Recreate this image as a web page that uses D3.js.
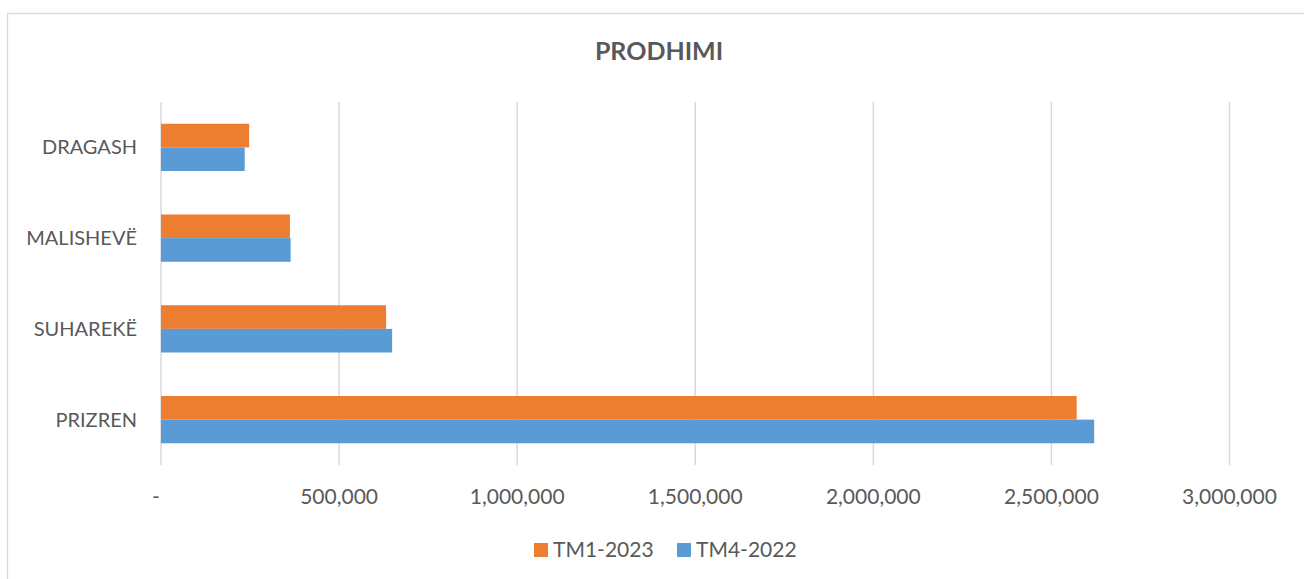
<!DOCTYPE html>
<html>
<head>
<meta charset="utf-8">
<script src="https://cdn.jsdelivr.net/npm/d3@7"></script>
<style>
  body { margin: 0; background: #fff; }
  svg { display: block; }
</style>
</head>
<body>
<svg id="chart" width="1304" height="579"></svg>
<script>
// data
var categories = ["DRAGASH", "MALISHEVË", "SUHAREKË", "PRIZREN"];
var seriesNames = ["TM1-2023", "TM4-2022"];
var tm1_2023 = [247500, 362000, 632000, 2571000];
var tm4_2022 = [235000, 364000, 649000, 2620000];
var xTicks = [0, 500000, 1000000, 1500000, 2000000, 2500000, 3000000];

var colors = {"TM1-2023": "#ED7D31", "TM4-2022": "#5B9BD5"};
var textColor = "#595959";
var gridColor = "#D9D9D9";
var fontFam = "Lato, 'Open Sans', sans-serif";

var svg = d3.select("#chart"),
    width = +svg.attr("width"),
    height = +svg.attr("height");

var plot = {left: 161, right: 1229.5, top: 102, bottom: 465};

// chart frame (right and bottom edges fall outside the picture)
svg.append("rect")
    .attr("x", 7.5).attr("y", 13.5)
    .attr("width", 1310).attr("height", 600)
    .attr("fill", "#fff")
    .attr("stroke", gridColor)
    .attr("stroke-width", 1.3);

var x = d3.scaleLinear().domain([0, 3000000]).range([plot.left, plot.right]);
var y = d3.scaleBand().domain(categories).range([plot.top, plot.bottom]).padding(0);
var ySub = d3.scaleBand().domain(seriesNames).range([0, y.bandwidth()]).paddingInner(0).paddingOuter(0.92);

// gridlines
svg.append("g")
    .selectAll("line")
    .data(xTicks)
    .join("line")
    .attr("x1", function (d) { return x(d); })
    .attr("x2", function (d) { return x(d); })
    .attr("y1", plot.top)
    .attr("y2", plot.bottom)
    .attr("stroke", gridColor)
    .attr("stroke-width", 1.5);

// title
svg.append("text")
    .attr("x", 659)
    .attr("y", 60)
    .attr("text-anchor", "middle")
    .attr("font-family", fontFam)
    .attr("font-weight", "bold")
    .attr("font-size", 25)
    .attr("fill", textColor)
    .text("PRODHIMI");

// bars
var rows = categories.map(function (c, i) {
    return {cat: c, vals: [
        {name: "TM1-2023", value: tm1_2023[i]},
        {name: "TM4-2022", value: tm4_2022[i]}
    ]};
});

var groups = svg.append("g")
    .selectAll("g")
    .data(rows)
    .join("g")
    .attr("transform", function (d) { return "translate(0," + y(d.cat) + ")"; });

groups.selectAll("rect")
    .data(function (d) { return d.vals; })
    .join("rect")
    .attr("x", x(0))
    .attr("y", function (d) { return ySub(d.name); })
    .attr("width", function (d) { return x(d.value) - x(0); })
    .attr("height", ySub.bandwidth())
    .attr("fill", function (d) { return colors[d.name]; });

// x axis labels
var fmt = d3.format(",");
svg.append("g")
    .selectAll("text")
    .data(xTicks)
    .join("text")
    .attr("x", function (d) { return d === 0 ? x(d) - 5 : x(d); })
    .attr("y", 504)
    .attr("text-anchor", "middle")
    .attr("font-family", fontFam)
    .attr("font-size", 21)
    .attr("fill", textColor)
    .text(function (d) { return d === 0 ? "-" : fmt(d); });

// category labels
svg.append("g")
    .selectAll("text")
    .data(categories)
    .join("text")
    .attr("x", 137)
    .attr("y", function (d) { return y(d) + y.bandwidth() / 2; })
    .attr("dy", "0.35em")
    .attr("text-anchor", "end")
    .attr("font-family", fontFam)
    .attr("font-size", 20)
    .attr("fill", textColor)
    .text(function (d) { return d; });

// legend
var legendX = [534, 677];
var legend = svg.append("g")
    .selectAll("g")
    .data(seriesNames)
    .join("g")
    .attr("transform", function (d, i) { return "translate(" + legendX[i] + ",543)"; });

legend.append("rect")
    .attr("width", 14)
    .attr("height", 14)
    .attr("fill", function (d) { return colors[d]; });

legend.append("text")
    .attr("x", 19)
    .attr("y", 14)
    .attr("font-family", fontFam)
    .attr("font-size", 21)
    .attr("fill", textColor)
    .text(function (d) { return d; });
</script>
</body>
</html>
